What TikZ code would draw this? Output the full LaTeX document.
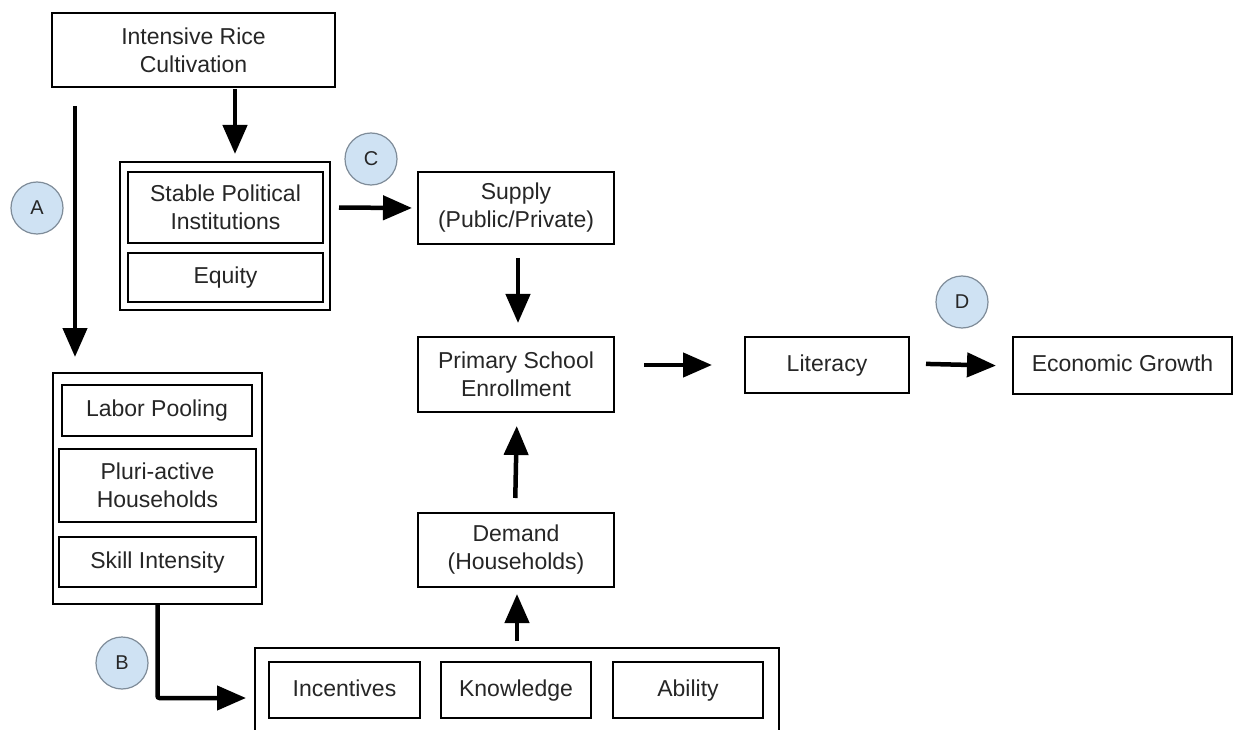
\documentclass[tikz,border=0pt]{standalone}
\usepackage{fontspec}
\setmainfont{Liberation Sans}
\usetikzlibrary{arrows.meta}
\definecolor{circfill}{HTML}{CFE2F3}
\definecolor{circline}{HTML}{7F8C99}
\definecolor{txt}{HTML}{262626}
\begin{document}
\begin{tikzpicture}[x=1pt,y=-1pt,
  box/.style={draw=black, line width=2pt, inner sep=0pt, align=center, text=txt,
    font=\fontsize{23}{28}\selectfont},
  one/.style={box, text height=16.5pt, text depth=4.5pt},
  arr/.style={line width=4.5pt, -{Triangle[length=29pt,width=24pt]}},
  circ/.style={circle, draw=circline, fill=circfill, line width=1.2pt, minimum size=52pt,
    inner sep=0pt, text=txt, font=\fontsize{20}{22}\selectfont}]
\useasboundingbox (0,0) rectangle (1235,730);
\clip (0,0) rectangle (1235,730);
\fill[white] (0,0) rectangle (1235,730);

% top
\node[box, minimum width=283pt, minimum height=74pt] (rice) at (193.5,50) {Intensive Rice\\Cultivation};
\node[box, minimum width=210pt, minimum height=148pt] (spiout) at (225,236) {};
\node[box, minimum width=195pt, minimum height=71pt] (spi) at (225.5,207.5) {Stable Political\\Institutions};
\node[one, minimum width=195pt, minimum height=49pt] (equity) at (225.5,277.5) {Equity};

% middle column
\node[box, minimum width=196pt, minimum height=72pt] (supply) at (516,208) {Supply\\(Public/Private)};
\node[box, minimum width=196pt, minimum height=75pt] (primary) at (516,374.5) {Primary School\\Enrollment};
\node[box, minimum width=196pt, minimum height=74pt] (demand) at (516,550) {Demand\\(Households)};

% right
\node[one, minimum width=164pt, minimum height=56pt] (literacy) at (827,365) {Literacy};
\node[one, minimum width=219pt, minimum height=57pt] (growth) at (1122.5,365.5) {Economic Growth};

% left group
\node[box, minimum width=209pt, minimum height=231pt] (leftout) at (157.5,488.5) {};
\node[one, minimum width=190pt, minimum height=51pt] (labor) at (157,410.5) {Labor Pooling};
\node[box, minimum width=197pt, minimum height=73pt] (pluri) at (157.5,485.5) {Pluri-active\\Households};
\node[one, minimum width=197pt, minimum height=50pt] (skill) at (157.5,562) {Skill Intensity};

% bottom group
\node[box, minimum width=524pt, minimum height=100pt] (bot) at (517,698) {};
\node[one, minimum width=151pt, minimum height=56pt] (incent) at (344.5,690) {Incentives};
\node[one, minimum width=150pt, minimum height=56pt] (know) at (516,690) {Knowledge};
\node[one, minimum width=150pt, minimum height=56pt] (ability) at (688,690) {Ability};

% circles
\node[circ] (ca) at (37,208) {A};
\node[circ] (cb) at (122,663) {B};
\node[circ] (cc) at (371,159) {C};
\node[circ] (cd) at (962,302) {D};

% arrows
\coordinate (astart) at (75,106);
\draw[arr, shorten >=15pt] (astart) -- (astart |- leftout.north);
\draw[arr, shorten <=1pt, shorten >=7pt] ([xshift=41.5pt]rice.south) -- ([xshift=10pt]spiout.north);
\draw[arr, shorten <=15pt, shorten >=5pt] (spi.east) -- (supply.west);
\draw[arr, shorten <=13pt, shorten >=13pt] ([xshift=2pt]supply.south) -- ([xshift=2pt]primary.north);
\draw[arr, shorten <=29pt, shorten >=32pt] (primary.east |- literacy.west) -- (literacy.west);
\draw[arr, shorten <=16pt, shorten >=16pt] ([yshift=1.5pt]literacy.east) -- ([yshift=-0.5pt]growth.west);
\draw[arr, shorten <=14pt, shorten >=13pt] ([xshift=-1pt]demand.north) -- ([xshift=1pt]primary.south);
\draw[arr, shorten <=6pt, shorten >=6pt] (bot.north) -- (bot.north |- demand.south);
\draw[arr, rounded corners=2pt, shorten >=8pt] (leftout.south) |- (bot.west);
\end{tikzpicture}
\end{document}
